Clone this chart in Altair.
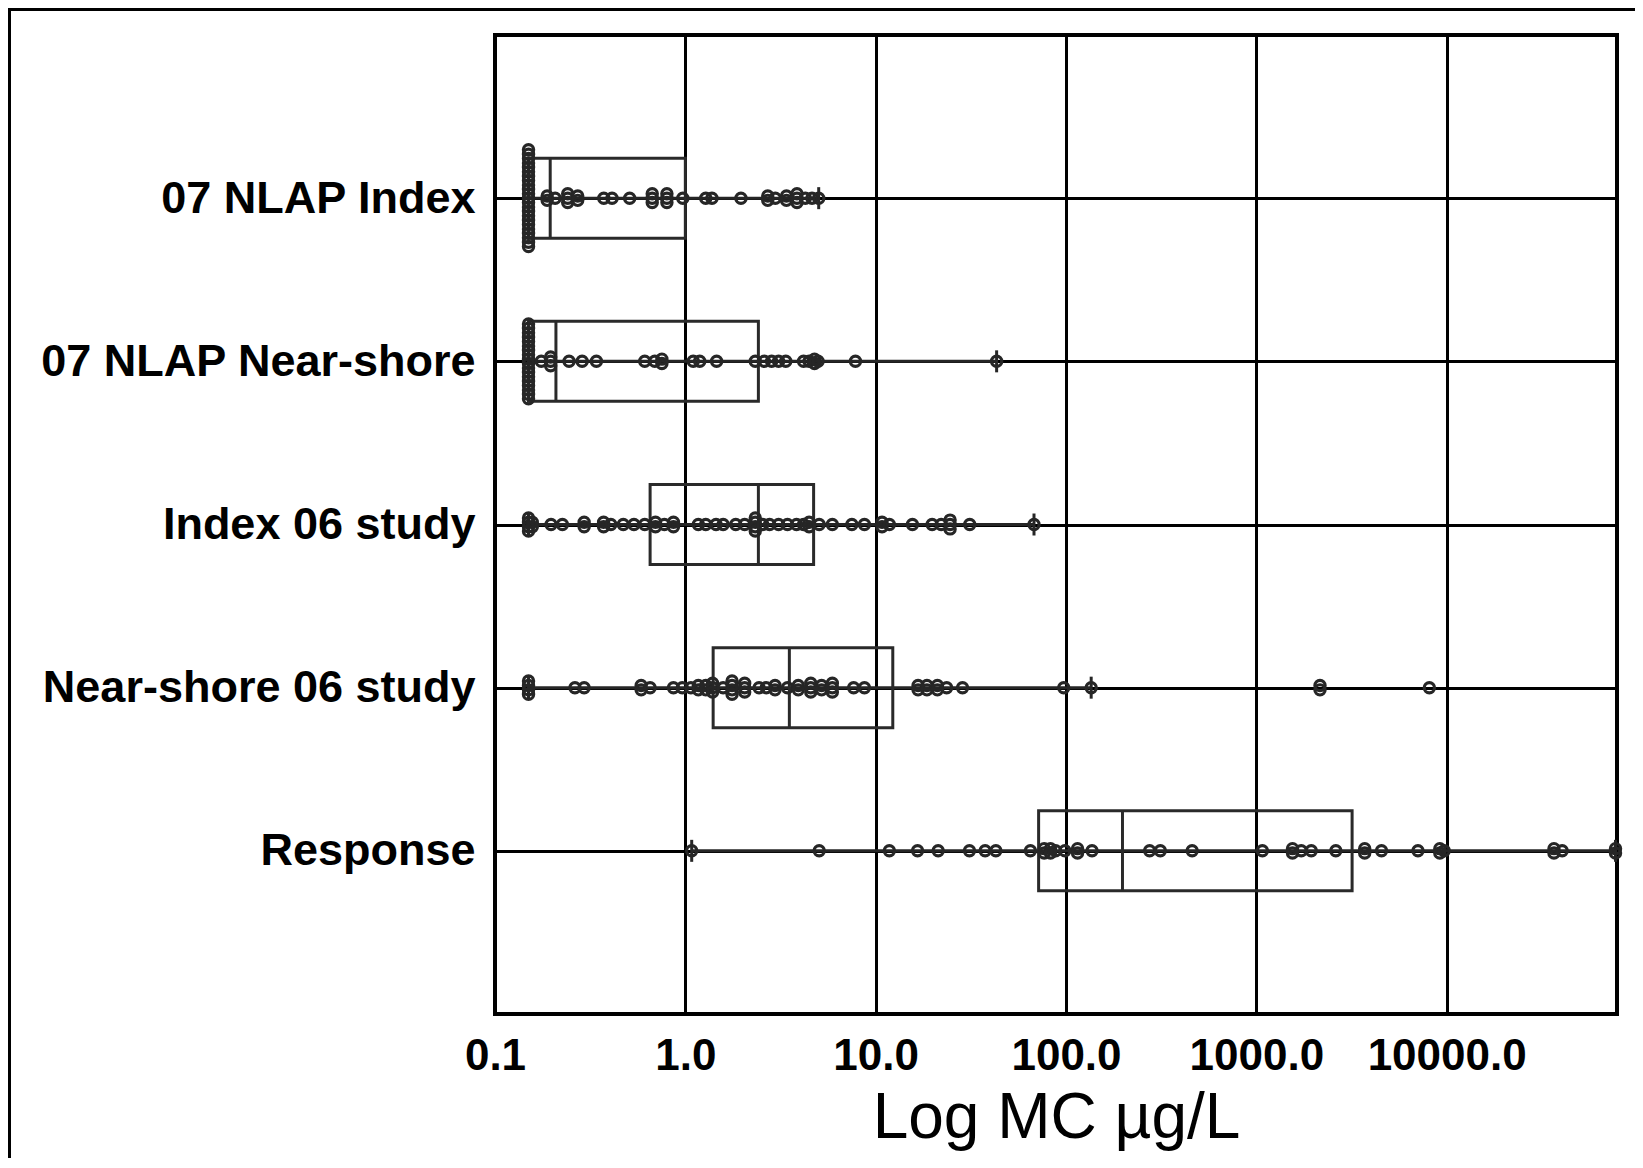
import altair as alt
import pandas as pd

# ---------------- data ----------------
categories = ["07 NLAP Index", "07 NLAP Near-shore", "Index 06 study",
              "Near-shore 06 study", "Response"]

# observed values (µg/L) and how many observations share each value
nlap_index_vals = [0.15, 0.188, 0.207, 0.241, 0.272, 0.373, 0.412, 0.51, 0.67, 0.80,
                   0.97, 1.28, 1.38, 1.96, 2.71, 2.97, 3.40, 3.86, 4.27, 4.63, 5.02]
nlap_index_n = [23, 2, 1, 3, 2, 1, 1, 1, 3, 3,
                1, 1, 1, 1, 2, 1, 2, 3, 1, 1, 1]

nlap_near_vals = [0.15, 0.175, 0.196, 0.245, 0.287, 0.341, 0.612, 0.691, 0.753, 1.10,
                  1.19, 1.46, 2.33, 2.60, 2.84, 3.09, 3.37, 4.18, 4.47, 4.77, 4.98,
                  7.83, 43.2]
nlap_near_n = [18, 1, 3, 1, 1, 1, 1, 1, 2, 1,
               1, 1, 1, 1, 1, 1, 1, 1, 1, 2, 1,
               1, 1]

index06_vals = [0.15, 0.157, 0.197, 0.226, 0.294, 0.372, 0.406, 0.472, 0.537, 0.612,
                0.697, 0.776, 0.866, 1.17, 1.28, 1.45, 1.58, 1.84, 2.05, 2.33,
                2.55, 2.77, 3.09, 3.44, 3.84, 4.18, 4.47, 5.05, 5.92, 7.50,
                8.73, 10.8, 11.8, 15.6, 19.8, 22.1, 24.6, 31.2, 67.9]
index06_n = [4, 2, 1, 1, 2, 2, 1, 1, 1, 1,
             2, 1, 2, 1, 1, 1, 1, 1, 1, 4,
             1, 1, 1, 1, 1, 1, 2, 1, 1, 1,
             1, 2, 1, 1, 1, 1, 3, 1, 1]

near06_vals = [0.15, 0.263, 0.294, 0.586, 0.653, 0.866, 0.964, 1.07, 1.17, 1.28,
               1.39, 1.58, 1.76, 2.05, 2.44, 2.66, 2.96, 3.44, 3.92, 4.56,
               5.20, 5.92, 7.66, 8.73, 16.7, 18.6, 21.1, 23.6, 28.6, 97.3,
               135.6, 2160, 8110]
near06_n = [4, 1, 1, 2, 1, 1, 1, 1, 2, 2,
            3, 1, 4, 3, 1, 1, 2, 1, 2, 3,
            2, 3, 1, 1, 2, 2, 2, 1, 1, 1,
            1, 2, 1]

response_vals = [1.08, 5.05, 11.8, 16.6, 21.3, 31.1, 37.6, 42.8, 65.0, 76.8,
                 82.9, 88.2, 98.7, 115, 137, 275, 313, 460, 1076, 1549,
                 1722, 1944, 2616, 3710, 4547, 7066, 9204, 9710, 36620, 40440,
                 77100]
response_n = [1, 1, 1, 1, 1, 1, 1, 1, 1, 2,
              2, 1, 1, 2, 1, 1, 1, 1, 1, 2,
              1, 1, 1, 2, 1, 1, 2, 1, 2, 1,
              2]

# box summaries
box_q1 = [0.15, 0.15, 0.653, 1.40, 71.8]
box_median = [0.195, 0.209, 2.42, 3.52, 198]
box_q3 = [1.0, 2.42, 4.72, 12.3, 3185]
whisker_lo = [0.15, 0.15, 0.15, 0.15, 1.08]
whisker_hi = [5.02, 43.2, 67.9, 135.6, 77100]

x_ticks = [0.1, 1, 10, 100, 1000, 10000]

# ---------------- tables ----------------
groups = [(nlap_index_vals, nlap_index_n), (nlap_near_vals, nlap_near_n),
          (index06_vals, index06_n), (near06_vals, near06_n),
          (response_vals, response_n)]
rows = []
for cat, (vals, ns) in zip(categories, groups):
    for v, n in zip(vals, ns):
        for i in range(n):
            rows.append({"group": cat, "value": v, "k": i, "n": n})
pts = pd.DataFrame(rows)
STACK = 4.4
pts["off"] = (pts["k"] - (pts["n"] - 1) / 2.0) * STACK

boxes = pd.DataFrame({"group": categories, "q1": box_q1, "median": box_median,
                      "q3": box_q3, "lo": whisker_lo, "hi": whisker_hi})
ends = pd.concat([
    pd.DataFrame({"group": categories, "v": whisker_lo}),
    pd.DataFrame({"group": categories, "v": whisker_hi}),
])

FONT = "Liberation Sans"
DARK = "#262626"
BOXC = "#2a2a2a"

xscale = alt.Scale(type="log", domain=[0.1, 78500], nice=False)
yscale = alt.Scale(type="point", padding=1, domain=categories)

x_axis = alt.Axis(values=x_ticks, format=".1f", title="Log MC µg/L",
                  grid=True, gridColor="black", gridWidth=3, gridOpacity=1,
                  ticks=False, domain=False,
                  labelFont=FONT, labelFontSize=44, labelFontWeight="bold",
                  labelColor="black", labelPadding=20, labelFlush=False,
                  labelOverlap=False,
                  titleFont=FONT, titleFontSize=64, titleFontWeight="normal",
                  titleColor="black", titlePadding=8)
y_axis = alt.Axis(title=None, grid=True, gridColor="black", gridWidth=3,
                  gridOpacity=1, ticks=False, domain=False,
                  labelFont=FONT, labelFontSize=45, labelFontWeight="bold",
                  labelColor="black", labelPadding=20, labelLimit=0)

base_box = alt.Chart(boxes)

whisk = base_box.mark_rule(color=DARK, strokeWidth=3).encode(
    x=alt.X("lo:Q", scale=xscale, axis=x_axis),
    x2="hi:Q",
    y=alt.Y("group:N", scale=yscale, axis=y_axis, sort=categories),
)
box = base_box.mark_bar(filled=False, stroke=BOXC, strokeWidth=3,
                        size=80, orient="horizontal").encode(
    x=alt.X("q1:Q", scale=xscale),
    x2="q3:Q",
    y=alt.Y("group:N", scale=yscale, sort=categories),
)
med = base_box.mark_tick(color=BOXC, thickness=3, size=80, opacity=1,
                         orient="vertical").encode(
    x=alt.X("median:Q", scale=xscale),
    y=alt.Y("group:N", scale=yscale, sort=categories),
)
endticks = alt.Chart(ends).mark_tick(color=DARK, thickness=3, size=22, opacity=1,
                                     orient="vertical").encode(
    x=alt.X("v:Q", scale=xscale),
    y=alt.Y("group:N", scale=yscale, sort=categories),
)
points = alt.Chart(pts).mark_point(shape="circle", filled=False, color=DARK,
                                   size=105, strokeWidth=3.2, opacity=1).encode(
    x=alt.X("value:Q", scale=xscale),
    y=alt.Y("group:N", scale=yscale, sort=categories),
    yOffset=alt.YOffset("off:Q", scale=None),
)

# outer figure frame (top and left edges)
frame_top = alt.Chart(pd.DataFrame({"a": [0]})).mark_rule(
    color="black", strokeWidth=4).encode(
    x=alt.value(-487), x2=alt.value(1140), y=alt.value(-26))
frame_left = alt.Chart(pd.DataFrame({"a": [0]})).mark_rule(
    color="black", strokeWidth=4).encode(
    x=alt.value(-486), y=alt.value(-28), y2=alt.value(1125))

chart = alt.layer(whisk, box, med, points, endticks, frame_top, frame_left).properties(
    width=1122, height=979,
    autosize=alt.AutoSizeParams(type="none"),
    padding={"left": 487, "top": 27, "right": 18, "bottom": 144},
    background="white",
).configure_view(stroke="black", strokeWidth=4)

chart.save("out.html", embed_options={"renderer": "svg", "actions": False})
